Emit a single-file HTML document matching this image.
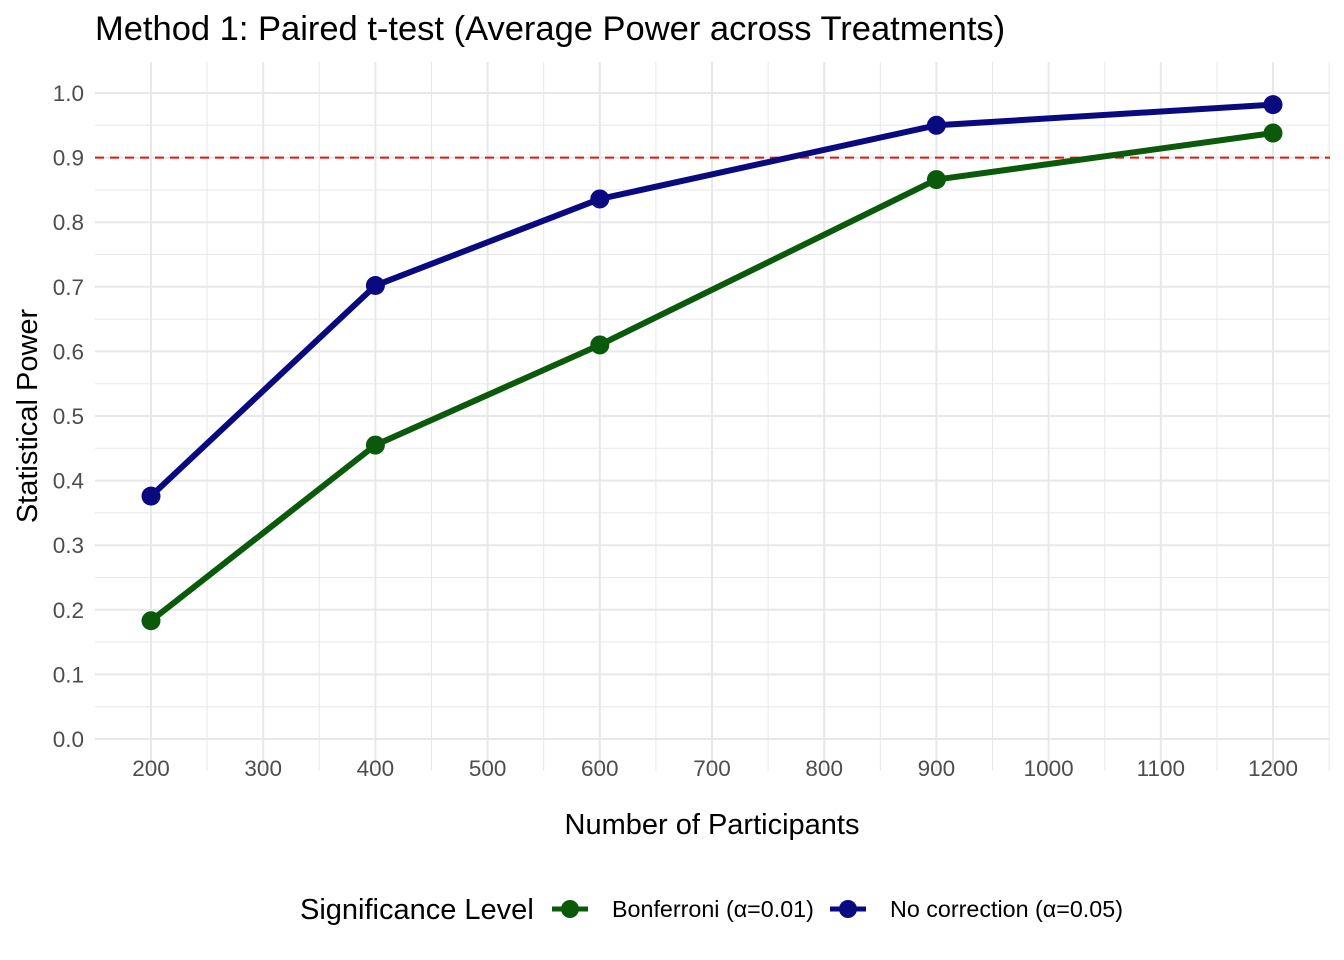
<!DOCTYPE html>
<html><head><meta charset="utf-8"><style>
body{margin:0;background:#fff;}
svg{display:block;font-family:"Liberation Sans",Arial,sans-serif;}
</style></head><body>
<svg id="chart" width="1344" height="960">
<text x="95" y="40" font-size="34.5" fill="#000">Method 1: Paired t-test (Average Power across Treatments)</text>
<g id="grid"></g>
<g id="marks"></g>
<g id="ticks"></g>
<text x="712" y="834" font-size="29" text-anchor="middle" fill="#000">Number of Participants</text>
<text transform="translate(37,416) rotate(-90)" font-size="29" text-anchor="middle" fill="#000">Statistical Power</text>
<g>
<text x="300" y="919" font-size="29" fill="#000">Significance Level</text>
<g>
<line x1="552" y1="909" x2="588" y2="909" stroke="#0b5a0b" stroke-width="5"/>
<circle cx="570" cy="909" r="9" fill="#0b5a0b"/>
<text x="612" y="917" font-size="23.3" fill="#000">Bonferroni (α=0.01)</text></g>
<g>
<line x1="830" y1="909" x2="866" y2="909" stroke="#0a0a80" stroke-width="5"/>
<circle cx="848" cy="909" r="9" fill="#0a0a80"/>
<text x="890" y="917" font-size="23.3" fill="#000">No correction (α=0.05)</text></g>
</g>
</svg>
<script>
const participants=[200,400,600,900,1200];
const bonferroni=[0.183,0.455,0.610,0.866,0.938];
const noCorrection=[0.376,0.702,0.836,0.950,0.982];
const xTicks=[200,300,400,500,600,700,800,900,1000,1100,1200];
const yTicks=[0,0.1,0.2,0.3,0.4,0.5,0.6,0.7,0.8,0.9,1.0];
const threshold=0.9;
const NS="http://www.w3.org/2000/svg";
const X=v=>151+(v-200)*1.122;
const Y=v=>739-v*646;
const L=95,R=1330,T=62,B=771;
function mk(tag,attrs,parent){const e=document.createElementNS(NS,tag);for(const k in attrs)e.setAttribute(k,attrs[k]);parent.appendChild(e);return e;}
const grid=document.getElementById('grid'),marks=document.getElementById('marks'),ticks=document.getElementById('ticks');
for(let v=150;v<=1250;v+=50){if(X(v)<L||X(v)>R)continue;const major=v%100===0;
const g=mk('line',{x1:X(v),x2:X(v),y1:T,y2:B,stroke:'#e8e8e8','stroke-width':major?2:1},grid);

}
for(let i=-1;i<=21;i++){const v=i*0.05;if(Y(v)<T||Y(v)>B)continue;const major=i%2===0;
const g=mk('line',{x1:L,x2:R,y1:Y(v),y2:Y(v),stroke:'#e8e8e8','stroke-width':major?2:1},grid);

}
xTicks.forEach(v=>{const t=mk('text',{x:X(v),y:776,'font-size':22.5,'text-anchor':'middle',fill:'#4d4d4d'},ticks);t.textContent=v;

});
yTicks.forEach(v=>{const t=mk('text',{x:84,y:Y(v)+8,'font-size':22.5,'text-anchor':'end',fill:'#4d4d4d'},ticks);t.textContent=v.toFixed(1);

});
const th=mk('line',{x1:L,x2:R,y1:Y(threshold),y2:Y(threshold),stroke:'#e8140f','stroke-width':2,'stroke-dasharray':'9,6'},marks);


function series(vals,color,name){
const p=mk('polyline',{points:vals.map((v,i)=>X(participants[i])+','+Y(v)).join(' '),fill:'none',stroke:color,'stroke-width':6,'stroke-linejoin':'round'},marks);


vals.forEach((v,i)=>{const c=mk('circle',{cx:X(participants[i]),cy:Y(v),r:9.5,fill:color},marks);

});}
series(bonferroni,'#0b5a0b','bonferroni');
series(noCorrection,'#0a0a80','no-correction');
</script>
</body></html>
